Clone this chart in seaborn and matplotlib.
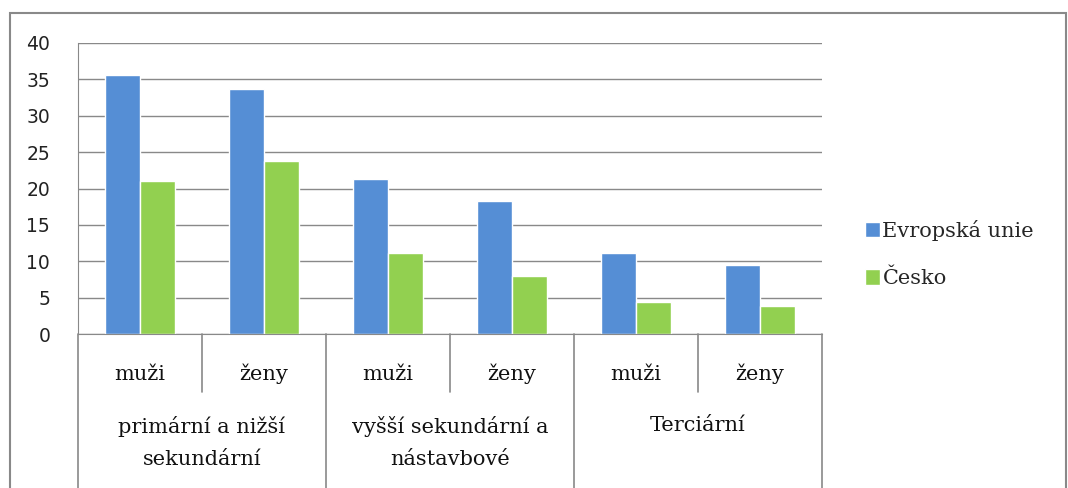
import matplotlib
matplotlib.use("Agg")
import matplotlib.pyplot as plt
import seaborn as sns
import pandas as pd
from matplotlib.patches import Rectangle
from matplotlib.lines import Line2D

groups = ["primární a nižší\nsekundární", "vyšší sekundární a\nnástavbové", "Terciární"]
sexes = ["muži", "ženy"]
series = ["Evropská unie", "Česko"]
eu_values = [35.6, 33.7, 21.3, 18.3, 11.1, 9.5]
cz_values = [21.0, 23.8, 11.1, 8.0, 4.4, 3.9]
yticks = [0, 5, 10, 15, 20, 25, 30, 35, 40]
colors = ["#558ED5", "#92D050"]

cats = [f"{g}|{s}" for g in groups for s in sexes]
rows = []
for c, e, z in zip(cats, eu_values, cz_values):
    rows.append({"cat": c, "series": series[0], "value": e})
    rows.append({"cat": c, "series": series[1], "value": z})
df = pd.DataFrame(rows)

sns.set_style("white")
W, H = 1068, 488
fig = plt.figure(figsize=(W / 100, H / 100), dpi=100)
ax = fig.add_axes([78 / W, (H - 334) / H, (822 - 78) / W, (334 - 43) / H])

sns.barplot(data=df, x="cat", y="value", hue="series", order=cats, hue_order=series,
            palette=colors, width=0.57, saturation=1, ax=ax, legend=True)

gray = "#898989"
ax.set_ylim(0, 40)
ax.set_xlim(-0.5, 5.5)
ax.set_yticks(yticks)
ax.set_yticklabels([str(t) for t in yticks], fontsize=13.5, family="DejaVu Sans", color="#222222")
ax.tick_params(axis="y", length=7, color=gray, width=1, pad=13)
ax.tick_params(axis="x", length=0)
ax.set_xticks([])
ax.set_xlabel("")
ax.set_ylabel("")
ax.grid(axis="y", color=gray, lw=1)
ax.set_axisbelow(True)
for s in ["top", "right"]:
    ax.spines[s].set_visible(False)
ax.spines["left"].set_color(gray)
ax.spines["bottom"].set_color(gray)

# multi-level category axis
def ay(py):
    return (334 - py) / (334 - 43)

serif = "DejaVu Serif"
fs = 15
for i, c in enumerate(cats):
    g, s = c.split("|")
    ax.text(i, ay(374), s, ha="center", va="center", fontsize=fs, family=serif,
            color="#111111", transform=ax.get_xaxis_transform(), clip_on=False)
for gi, g in enumerate(groups):
    ax.text(gi * 2 + 0.5, ay(416), g, ha="center", va="top", fontsize=fs, family=serif,
            color="#111111", linespacing=1.85, transform=ax.get_xaxis_transform(), clip_on=False)
for xb in [0.5, 2.5, 4.5]:
    ax.add_line(Line2D([xb, xb], [0, ay(392)], color=gray, lw=1.2,
                       transform=ax.get_xaxis_transform(), clip_on=False))
for xb in [-0.5, 1.5, 3.5, 5.5]:
    ax.add_line(Line2D([xb, xb], [0, ay(500)], color=gray, lw=1.2,
                       transform=ax.get_xaxis_transform(), clip_on=False))

leg = ax.legend(loc="center left", bbox_to_anchor=(846 / W, (H - 254) / H),
                bbox_transform=fig.transFigure, frameon=False,
                prop={"family": serif, "size": fs}, handlelength=0.75, handleheight=0.75,
                handletextpad=0.1, labelspacing=1.35)

fig.patches.append(Rectangle((10 / W, -0.05), (1066 - 10) / W, (H - 13) / H + 0.05,
                             transform=fig.transFigure, fill=False, edgecolor=gray, lw=1.5))

fig.savefig("out.png", dpi=100)
